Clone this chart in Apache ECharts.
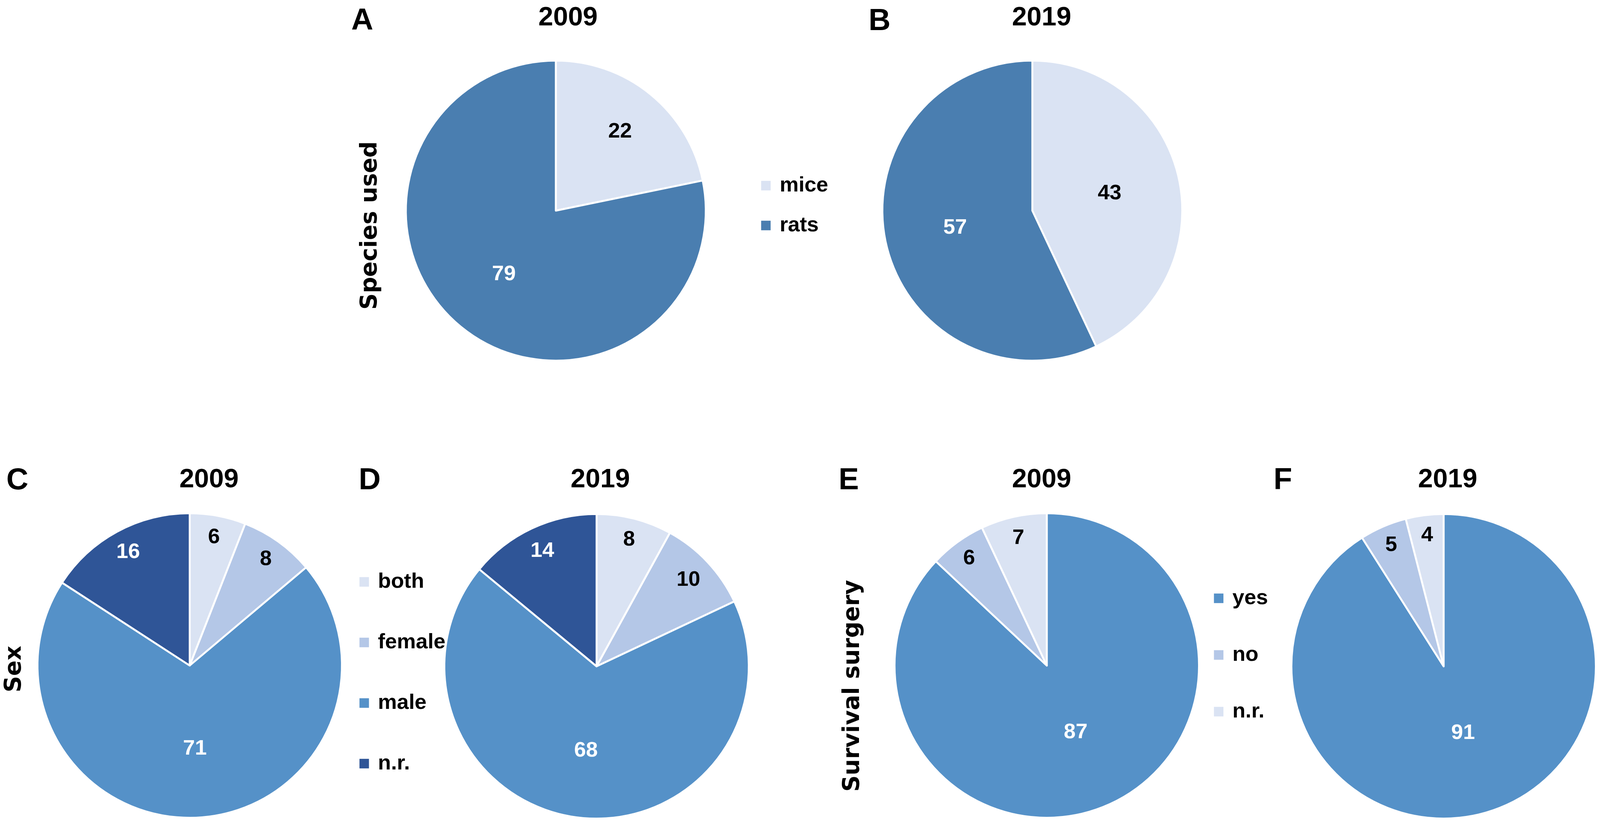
<!DOCTYPE html>
<html>
<head>
<meta charset="utf-8">
<title>Species, sex and survival surgery 2009 vs 2019</title>
<script src="https://cdn.jsdelivr.net/npm/echarts@6/dist/echarts.min.js"></script>
<style>
  html, body { margin: 0; padding: 0; background: #fff; overflow: hidden; }
  #chart { width: 100vw; height: 100vh; }
</style>
</head>
<body>
<div id="chart"></div>
<script>
// values (numbers printed in the slices)
const years = ['2009', '2019'];
const panelLetters = ['A', 'B', 'C', 'D', 'E', 'F'];
const rowTitles = ['Species used', 'Sex', 'Survival surgery'];

const speciesNames = ['mice', 'rats'];
const species2009 = [22, 79];
const species2019 = [43, 57];

const sexNames = ['both', 'female', 'male', 'n.r.'];
const sex2009 = [6, 8, 71, 16];
const sex2019 = [8, 10, 68, 14];

const surgeryNames = ['yes', 'no', 'n.r.'];
const surgery2009 = [87, 6, 7];
const surgery2019 = [91, 5, 4];

// colours
const speciesColors = ['#dae3f3', '#4a7eb0'];
const sexColors = ['#dae3f3', '#b4c7e7', '#5591c8', '#2f5597'];
const surgeryColors = ['#5591c8', '#b4c7e7', '#dae3f3'];
const speciesText = ['#000', '#fff'];
const sexText = ['#000', '#000', '#fff', '#fff'];
const surgeryText = ['#fff', '#000', '#000'];

const font = "'Liberation Sans', Arial, sans-serif";
const wideFont = "'DejaVu Sans', Verdana, sans-serif";

const chart = echarts.init(document.getElementById('chart'));

// layout was measured on a 4318 x 2129 picture; map it onto the real window
const sx = chart.getWidth() / 4318;
const sy = chart.getHeight() / 2129;
const X = v => v * sx;
const Y = v => v * sy;
const S = v => v * (sx + sy) / 2;

// one pie plus transparent rings that only carry the value labels,
// so each label can sit at its own distance from the centre (like Excel does)
function pie(names, values, colors, textColors, center, r, labelAt) {
  const c = [X(center[0]), Y(center[1])];
  const rr = S(r);
  const series = [{
    type: 'pie',
    center: c,
    radius: rr,
    silent: true,
    label: { show: false },
    labelLine: { show: false },
    itemStyle: { borderColor: '#fff', borderWidth: S(5) },
    data: values.map((v, i) => ({ name: names[i], value: v, itemStyle: { color: colors[i] } }))
  }];
  values.forEach((_, k) => {
    const f = labelAt[k];
    series.push({
      type: 'pie',
      center: c,
      radius: f >= 0.5 ? [(2 * f - 1) * rr, rr] : [0, 2 * f * rr],
      silent: true,
      labelLine: { show: false },
      itemStyle: { color: 'rgba(0,0,0,0)', borderWidth: 0 },
      label: {
        position: 'inside',
        formatter: '{c}',
        color: textColors[k],
        fontSize: S(56),
        fontWeight: 'bold',
        fontFamily: font
      },
      data: values.map((v, i) => ({ name: names[i], value: v, label: { show: i === k } }))
    });
  });
  return series;
}

function legend(names, colors, left, firstCenter, step) {
  const lh = S(60);
  return {
    orient: 'vertical',
    left: X(left),
    top: Y(firstCenter) - lh / 2,
    padding: 0,
    itemWidth: S(27),
    itemHeight: S(27),
    itemGap: Y(step) - lh,
    icon: 'rect',
    selectedMode: false,
    textStyle: {
      fontSize: S(56),
      fontWeight: 'bold',
      fontFamily: font,
      color: '#000',
      lineHeight: lh,
      padding: [0, 0, 0, X(18)]
    },
    data: names.map((n, i) => ({ name: n, itemStyle: { color: colors[i] } }))
  };
}

function text(str, x, y, size, family, align, rotation) {
  return {
    type: 'text',
    x: X(x),
    y: Y(y),
    rotation: rotation || 0,
    style: {
      text: str,
      fontSize: S(size),
      fontWeight: 'bold',
      fontFamily: family || font,
      fill: '#000',
      align: align || 'center',
      verticalAlign: 'middle'
    }
  };
}

const topR = 394;
const botR = 400;

const series = [].concat(
  pie(speciesNames, species2009, speciesColors, speciesText, [1500, 539], topR, [0.67, 0.54]),
  pie(speciesNames, species2019, speciesColors, speciesText, [2786, 539], topR, [0.52, 0.52]),
  pie(sexNames, sex2009, sexColors, sexText, [512, 1703], botR, [0.85, 0.85, 0.54, 0.84]),
  pie(sexNames, sex2019, sexColors, sexText, [1610, 1705], botR, [0.85, 0.82, 0.55, 0.83]),
  pie(surgeryNames, surgery2009, surgeryColors, surgeryText, [2825, 1703], botR, [0.47, 0.86, 0.85]),
  pie(surgeryNames, surgery2019, surgeryColors, surgeryText, [3896, 1705], botR, [0.45, 0.86, 0.86])
);

const graphics = [
  // year titles
  text(years[0], 1533, 46, 70),
  text(years[1], 2811, 46, 70),
  text(years[0], 564, 1228, 70),
  text(years[1], 1620, 1228, 70),
  text(years[0], 2811, 1228, 70),
  text(years[1], 3907, 1228, 70),
  // row titles, reading bottom to top
  text(rowTitles[0], 1000, 577, 60, wideFont, 'center', Math.PI / 2),
  text(rowTitles[1], 40, 1712, 60, wideFont, 'center', Math.PI / 2),
  text(rowTitles[2], 2302, 1755, 60, wideFont, 'center', Math.PI / 2)
];

const letterPos = [[948, 54], [2344, 55], [17, 1230], [968, 1230], [2263, 1230], [3437, 1230]];
panelLetters.forEach((l, i) => {
  graphics.push(text(l, letterPos[i][0], letterPos[i][1], 80, font, 'left'));
});

chart.setOption({
  backgroundColor: '#fff',
  animation: false,
  legend: [
    legend(speciesNames, speciesColors, 2052, 475, 102),
    legend(sexNames, sexColors, 968, 1489, 155),
    legend(surgeryNames, surgeryColors, 3274, 1531, 145)
  ],
  graphic: graphics,
  series: series
});
</script>
</body>
</html>
